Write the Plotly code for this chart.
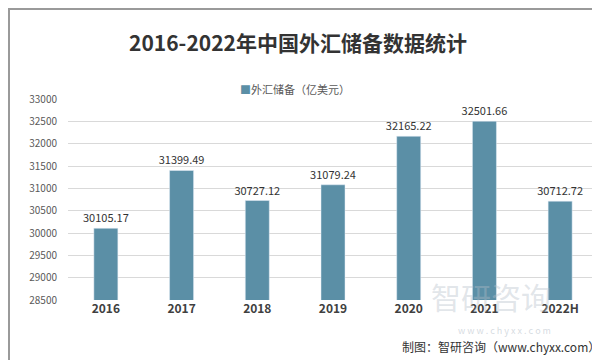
import plotly.graph_objects as go

categories = ["2016", "2017", "2018", "2019", "2020", "2021", "2022H"]
values = [30105.17, 31399.49, 30727.12, 31079.24, 32165.22, 32501.66, 30712.72]
labels = ["30105.17", "31399.49", "30727.12", "31079.24", "32165.22", "32501.66", "30712.72"]
y_ticks = [28500, 29000, 29500, 30000, 30500, 31000, 31500, 32000, 32500, 33000]
series_name = "外汇储备（亿美元）"

W, H = 600, 360
L, R, T, B = 60, 10, 91, 68
pw, ph = W - L - R, H - T - B
BAR_COLOR = "#5b8fa6"

def px(x):
    return (x - L) / pw

def py(y):
    return (H - B - y) / ph

fig = go.Figure()
fig.add_trace(go.Bar(
    x=categories, y=values,
    name=series_name,
    marker_color=BAR_COLOR,
    text=labels, textposition="outside",
    textfont=dict(size=11, color="#333333"),
    constraintext="none",
    cliponaxis=False,
    showlegend=False,
))

fig.update_layout(
    width=W, height=H,
    margin=dict(l=L, r=R, t=T, b=B, autoexpand=False),
    paper_bgcolor="white", plot_bgcolor="white",
    font=dict(family="Noto Sans CJK SC, sans-serif", color="#595959"),
    bargap=0.683,
    title=dict(text="<b>2016-2022年中国外汇储备数据统计</b>", x=px(290), xanchor="center",
               xref="paper", y=1 - 36 / H, yanchor="middle",
               font=dict(size=21, color="#333333", family="Noto Sans CJK SC, serif")),
    xaxis=dict(showgrid=False, showline=False, ticks="", automargin=False,
               tickfont=dict(size=12, color="#404040", family="Noto Sans CJK SC"),
               tickprefix="<b>", ticksuffix="</b>"),
    yaxis=dict(range=[28500, 33000], tickvals=y_ticks, ticktext=[str(v) for v in y_ticks],
               showgrid=True, gridcolor="#d9d9d9", automargin=False,
               gridwidth=1, zeroline=False, showline=False, ticks="",
               tickfont=dict(size=10, color="#595959"), ticklabelstandoff=10),
    shapes=[
        dict(type="rect", xref="paper", yref="paper", x0=px(1), x1=px(599), y0=py(1), y1=py(359),
             line=dict(color="#9a9a9a", width=2), fillcolor="rgba(0,0,0,0)", layer="above"),
    ],
    annotations=[
        dict(text=f"<span style='color:{BAR_COLOR}'>■</span>{series_name}", xref="paper", yref="paper",
             x=px(287), y=py(71), showarrow=False, font=dict(size=11, color="#595959")),
        dict(text="智研咨询", xref="paper", yref="paper", x=px(545), y=py(312), showarrow=False,
             font=dict(size=30, color="rgba(180,190,200,0.40)")),
        dict(text="w w w . c h y x x . c o m", xref="paper", yref="paper", x=px(545), y=py(331),
             showarrow=False, font=dict(size=9, color="rgba(180,190,200,0.55)")),
        dict(text="制图：智研咨询（www.chyxx.com）", xref="paper", yref="paper", x=px(594), y=py(349),
             xanchor="right", showarrow=False, font=dict(size=12, color="#333333")),
    ],
)

fig.write_html("out.html")
